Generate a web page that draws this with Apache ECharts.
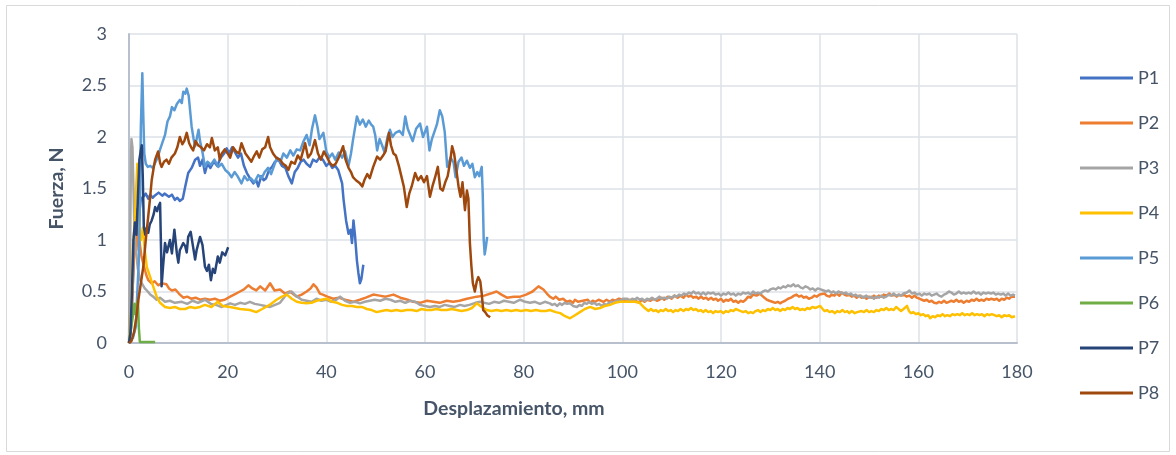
<!DOCTYPE html>
<html>
<head>
<meta charset="utf-8">
<script src="https://cdn.jsdelivr.net/npm/echarts@6/dist/echarts.min.js"></script>
<style>
  html, body { margin: 0; padding: 0; background: #ffffff; }
  #chart { width: 1176px; height: 455px; }
</style>
</head>
<body>
<div id="chart"></div>
<script>
// Force vs. displacement traces for eight specimens, [displacement mm, force N]
const seriesNames = ['P1', 'P2', 'P3', 'P4', 'P5', 'P6', 'P7', 'P8'];
const seriesColors = ['#4472C4', '#ED7D31', '#A5A5A5', '#FFC000', '#5B9BD5', '#70AD47', '#264478', '#9E480E'];

const p1 = [[0,0],[0.4,0.15],[0.8,0.6],[1.2,1.1],[1.6,1.3],[2.0,1.22],[2.4,1.4],[2.9,1.42],[3.4,1.45],[3.9,1.4],[4.3,1.44],[4.8,1.41],[5.2,1.43],[5.6,1.42],[6.0,1.46],[6.3,1.47],[6.8,1.43],[7.2,1.45],[7.6,1.46],[8.1,1.42],[8.7,1.44],[9.3,1.39],[9.8,1.41],[10.3,1.38],[10.9,1.40],[11.4,1.52],[12,1.65],[12.7,1.70],[13.4,1.78],[14,1.80],[14.4,1.72],[14.9,1.78],[15.4,1.65],[15.9,1.74],[16.5,1.70],[17.2,1.76],[17.9,1.72],[18.6,1.80],[19.3,1.84],[19.8,1.89],[20.3,1.84],[20.9,1.90],[21.5,1.85],[22.1,1.80],[22.7,1.84],[23.3,1.72],[23.9,1.65],[24.5,1.60],[25.2,1.55],[25.8,1.58],[26.2,1.52],[26.8,1.62],[27.3,1.58],[27.8,1.60],[28.4,1.68],[29,1.71],[29.6,1.76],[30.3,1.78],[31,1.72],[31.7,1.70],[32.3,1.62],[33,1.55],[33.6,1.66],[34.2,1.70],[34.8,1.76],[35.4,1.78],[36,1.74],[36.7,1.71],[37.3,1.78],[38,1.76],[38.6,1.80],[39.3,1.78],[40,1.72],[40.6,1.75],[41.2,1.70],[41.8,1.72],[42.4,1.68],[43.2,1.55],[43.5,1.39],[44,1.19],[44.5,1.06],[44.9,1.10],[45.2,0.97],[45.5,1.19],[45.8,1.05],[46.2,0.80],[46.5,0.68],[46.8,0.58],[47.1,0.62],[47.5,0.76]];

const p2 = [[0,0],[0.3,0.1],[0.6,0.35],[0.9,0.75],[1.2,1.05],[1.5,0.9],[1.8,1.1],[2.1,1.0],[2.5,0.85],[3.0,0.75],[3.5,0.66],[3.9,0.61],[4.6,0.58],[5.2,0.60],[5.9,0.56],[6.6,0.58],[7.6,0.57],[8.1,0.53],[8.7,0.51],[9.4,0.52],[10.1,0.48],[11,0.44],[11.8,0.45],[12.6,0.43],[13.5,0.44],[14.4,0.42],[15.4,0.43],[16.4,0.42],[17.4,0.43],[18.4,0.41],[19.4,0.42],[20.5,0.45],[21.3,0.47],[22.5,0.50],[23.3,0.52],[24.2,0.56],[25,0.53],[25.8,0.51],[26.6,0.55],[27.6,0.51],[28.6,0.58],[29.5,0.51],[30.6,0.52],[31.6,0.48],[32.6,0.50],[34,0.45],[35,0.47],[36,0.50],[36.8,0.53],[37.4,0.57],[38,0.54],[38.7,0.48],[39.3,0.47],[40.2,0.45],[41.4,0.43],[42.5,0.44],[43.8,0.42],[45.5,0.40],[46.8,0.42],[48,0.44],[49.5,0.47],[50.8,0.46],[52,0.45],[53.6,0.47],[55,0.44],[56.5,0.42],[57.6,0.40],[59,0.39],[60.4,0.41],[61.7,0.40],[63,0.39],[64.4,0.41],[65.7,0.40],[67,0.41],[68.5,0.43],[70.5,0.45],[72,0.46],[73.3,0.48],[74.5,0.50],[75.5,0.47],[76.6,0.44],[78,0.45],[79.3,0.45],[80.5,0.47],[81.8,0.50],[83,0.55],[84,0.52],[84.7,0.48],[85.3,0.45],[86,0.43],[86.5,0.45],[87.2,0.42],[88,0.43],[88.7,0.40],[89.4,0.41],[90,0.39],[90.4,0.42],[91,0.40],[91.4,0.385],[92,0.41],[92.4,0.40],[93,0.42],[93.5,0.39],[94,0.41],[94.5,0.40],[95.2,0.42],[96.2,0.40],[96.8,0.42],[97.5,0.40],[98,0.42],[98.5,0.41],[99.3,0.43],[100.2,0.42],[100.8,0.40],[101.5,0.42],[102.1,0.40],[102.7,0.41],[103.4,0.39],[104,0.42],[104.5,0.40],[105,0.42],[105.7,0.41],[106.3,0.43],[107,0.41],[107.5,0.42],[108,0.44],[108.5,0.42],[109.2,0.45],[110,0.43],[110.6,0.46],[111.2,0.44],[111.8,0.46],[112.4,0.44],[112.9,0.47],[113.4,0.45],[113.9,0.46],[114.4,0.44],[115,0.45],[115.4,0.43],[116,0.45],[116.4,0.43],[117,0.44],[117.4,0.42],[118,0.44],[118.4,0.42],[119,0.43],[119.4,0.41],[120,0.43],[120.5,0.40],[121,0.42],[121.5,0.41],[122,0.43],[122.5,0.40],[123,0.41],[123.5,0.39],[124,0.41],[124.5,0.40],[125,0.42],[125.5,0.45],[126,0.44],[126.5,0.47],[127.2,0.46],[127.9,0.48],[128.3,0.46],[128.8,0.44],[129.3,0.42],[129.8,0.41],[130.4,0.40],[131,0.39],[131.5,0.40],[132,0.385],[132.5,0.40],[133,0.41],[133.6,0.43],[134.2,0.44],[134.8,0.46],[135.3,0.47],[135.8,0.45],[136.3,0.46],[136.8,0.44],[137.3,0.45],[137.8,0.43],[138.4,0.44],[138.9,0.46],[139.4,0.45],[140,0.47],[140.4,0.46],[141,0.48],[141.4,0.46],[142,0.45],[142.4,0.47],[143,0.46],[143.4,0.48],[144,0.46],[144.5,0.49],[145,0.47],[145.5,0.46],[146,0.47],[146.5,0.45],[147,0.46],[147.5,0.44],[148,0.46],[148.5,0.44],[149,0.45],[149.5,0.43],[150,0.45],[150.5,0.44],[151,0.46],[151.5,0.44],[152,0.46],[152.5,0.45],[153,0.47],[153.6,0.46],[154.1,0.48],[154.6,0.46],[155.1,0.47],[155.6,0.45],[156.1,0.47],[156.6,0.46],[157.1,0.47],[157.6,0.45],[158.2,0.46],[158.7,0.44],[159.2,0.46],[159.7,0.44],[160.2,0.43],[160.7,0.42],[161.2,0.41],[161.7,0.42],[162.2,0.40],[162.7,0.41],[163.2,0.39],[163.7,0.385],[164.2,0.40],[164.7,0.39],[165.2,0.41],[165.7,0.39],[166.2,0.40],[166.7,0.41],[167.2,0.40],[167.7,0.42],[168.2,0.40],[168.7,0.41],[169.2,0.39],[169.8,0.41],[170.3,0.40],[170.8,0.42],[171.3,0.41],[171.8,0.43],[172.3,0.41],[172.8,0.42],[173.3,0.41],[173.8,0.43],[174.3,0.42],[174.8,0.43],[175.4,0.42],[175.9,0.43],[176.4,0.41],[176.9,0.43],[177.4,0.42],[177.9,0.44],[178.4,0.43],[178.9,0.45],[179.6,0.45]];

const p3 = [[0,0],[0.2,0.8],[0.4,1.8],[0.5,1.98],[0.7,1.9],[0.9,1.5],[1.1,1.1],[1.4,0.9],[1.8,0.72],[2.2,0.62],[2.6,0.58],[3.2,0.53],[3.8,0.50],[4.3,0.47],[4.9,0.45],[5.6,0.42],[6.3,0.44],[7.3,0.40],[8.3,0.41],[9.3,0.39],[10.7,0.40],[11.8,0.38],[12.9,0.41],[14,0.39],[15.4,0.42],[16.6,0.38],[17.6,0.37],[18.8,0.35],[19.8,0.37],[20.5,0.385],[21.5,0.37],[22.5,0.39],[23.5,0.38],[24.5,0.40],[25.5,0.38],[26.6,0.37],[27.6,0.36],[28.6,0.35],[29.6,0.37],[30.6,0.39],[31.4,0.44],[32,0.48],[33,0.50],[33.8,0.46],[35,0.42],[36,0.41],[37,0.40],[38,0.43],[39,0.41],[40,0.42],[41,0.40],[42,0.42],[42.8,0.45],[43.8,0.41],[44.8,0.39],[45.8,0.40],[46.8,0.385],[47.8,0.40],[48.8,0.41],[49.8,0.42],[50.9,0.41],[52,0.43],[53,0.42],[54,0.40],[55,0.41],[56,0.39],[57,0.41],[58,0.40],[59,0.37],[60,0.36],[61,0.35],[62,0.36],[63,0.35],[64,0.37],[65,0.36],[66,0.35],[67.1,0.37],[68,0.36],[69,0.37],[70.2,0.39],[71.2,0.40],[72,0.39],[73,0.38],[74,0.40],[75,0.39],[76,0.41],[77,0.40],[78,0.39],[79.3,0.42],[80.3,0.40],[81.3,0.39],[82.3,0.40],[83.3,0.38],[84.3,0.40],[85.3,0.385],[85.8,0.37],[86.3,0.38],[86.8,0.36],[87.3,0.385],[87.8,0.37],[88.3,0.39],[88.8,0.38],[89.4,0.385],[90,0.36],[90.4,0.37],[90.8,0.35],[91.3,0.37],[91.8,0.36],[92.3,0.39],[92.8,0.38],[93.3,0.40],[93.8,0.38],[94.3,0.39],[94.8,0.37],[95.3,0.38],[95.8,0.36],[96.3,0.38],[96.8,0.37],[97.3,0.39],[97.8,0.40],[98.3,0.39],[98.8,0.41],[99.2,0.42],[99.6,0.41],[100.1,0.43],[100.5,0.42],[101,0.43],[101.5,0.41],[102,0.43],[102.5,0.42],[103,0.44],[103.5,0.42],[104,0.43],[104.5,0.41],[105,0.43],[105.5,0.42],[106,0.44],[106.5,0.42],[107,0.43],[107.5,0.45],[108,0.43],[108.5,0.44],[109,0.43],[109.5,0.45],[110,0.44],[110.5,0.46],[111,0.45],[111.5,0.47],[112,0.46],[112.5,0.48],[113,0.47],[113.5,0.49],[114,0.48],[114.4,0.50],[114.9,0.48],[115.4,0.49],[115.9,0.47],[116.4,0.49],[116.9,0.47],[117.4,0.49],[117.9,0.48],[118.4,0.49],[118.9,0.47],[119.5,0.48],[120,0.46],[120.5,0.48],[121,0.47],[121.5,0.49],[122,0.47],[122.5,0.48],[123,0.46],[123.5,0.48],[124,0.47],[124.5,0.49],[125,0.48],[125.5,0.49],[126,0.47],[126.5,0.50],[127,0.48],[127.5,0.49],[128,0.48],[128.5,0.50],[129,0.51],[129.5,0.50],[130,0.52],[130.6,0.53],[131.1,0.52],[131.6,0.54],[132.1,0.53],[132.6,0.55],[133.1,0.54],[133.6,0.56],[134.1,0.55],[134.7,0.57],[135.1,0.55],[135.6,0.56],[136.1,0.54],[136.6,0.53],[137.1,0.55],[137.6,0.54],[138.1,0.52],[138.6,0.53],[139.1,0.51],[139.6,0.53],[140.2,0.52],[140.8,0.51],[141.3,0.50],[141.8,0.51],[142.3,0.49],[142.8,0.50],[143.3,0.48],[143.8,0.50],[144.3,0.49],[144.8,0.48],[145.3,0.49],[145.8,0.47],[146.3,0.48],[146.8,0.46],[147.3,0.47],[147.8,0.45],[148.3,0.46],[148.9,0.44],[149.4,0.46],[150,0.44],[150.5,0.45],[151,0.43],[151.5,0.45],[152,0.44],[152.5,0.46],[153,0.44],[153.5,0.45],[154,0.47],[154.5,0.46],[155,0.48],[155.5,0.46],[156,0.47],[156.5,0.46],[157,0.48],[157.7,0.49],[158.2,0.51],[158.7,0.48],[159.2,0.49],[159.7,0.47],[160.2,0.48],[160.7,0.46],[161.2,0.48],[161.7,0.47],[162.2,0.48],[162.7,0.46],[163.2,0.47],[163.7,0.48],[164.2,0.46],[164.7,0.45],[165.2,0.47],[165.7,0.48],[166.2,0.50],[166.7,0.49],[167.2,0.47],[167.7,0.48],[168.2,0.50],[168.7,0.48],[169.2,0.49],[169.7,0.48],[170.2,0.49],[170.7,0.48],[171.2,0.50],[171.7,0.48],[172.2,0.49],[172.7,0.47],[173.2,0.49],[173.7,0.48],[174.2,0.49],[174.7,0.48],[175.2,0.49],[175.7,0.47],[176.2,0.48],[176.7,0.47],[177.2,0.48],[177.7,0.46],[178.2,0.48],[178.7,0.46],[179.2,0.47],[179.6,0.46]];

const p4 = [[0,0],[0.3,0.15],[0.6,0.5],[0.8,0.95],[1.0,1.05],[1.2,1.2],[1.4,1.45],[1.7,1.74],[1.9,1.5],[2.1,1.1],[2.4,1.0],[2.8,1.12],[3.2,0.90],[3.6,0.74],[4.3,0.64],[4.9,0.55],[5.6,0.45],[6.3,0.39],[7.3,0.35],[8.3,0.34],[9.3,0.35],[10.3,0.33],[11.4,0.33],[12.4,0.35],[13.4,0.34],[14.4,0.35],[15.4,0.37],[16.7,0.35],[18,0.40],[19,0.36],[20.5,0.35],[21.5,0.34],[22.5,0.33],[24.5,0.32],[25.8,0.30],[27,0.33],[28.5,0.37],[29.9,0.42],[31,0.45],[32,0.47],[33,0.43],[34,0.40],[35,0.39],[36,0.385],[37,0.39],[38,0.41],[39,0.42],[40.1,0.43],[41.2,0.40],[42.2,0.39],[43.2,0.37],[44.2,0.36],[45.2,0.36],[46.2,0.35],[47.2,0.35],[48.2,0.33],[49.2,0.32],[50.2,0.30],[51.2,0.31],[52.2,0.32],[53.2,0.31],[54.2,0.32],[55.2,0.31],[56.3,0.32],[57.3,0.32],[58.3,0.31],[59.3,0.33],[60.3,0.32],[61.3,0.32],[62.3,0.33],[63.3,0.32],[64.4,0.32],[65.4,0.33],[66.4,0.32],[67.4,0.31],[68.5,0.32],[69.5,0.34],[70.5,0.385],[71.5,0.35],[72.5,0.32],[73.5,0.31],[74.5,0.32],[75.5,0.31],[76.5,0.32],[77.5,0.31],[78.5,0.32],[79.5,0.31],[80.5,0.32],[81.5,0.31],[82.5,0.32],[83.5,0.31],[84.5,0.31],[85.3,0.32],[86.5,0.30],[87.4,0.29],[88.4,0.26],[89.4,0.24],[90.4,0.27],[91.4,0.30],[92.4,0.33],[93.5,0.35],[94.5,0.33],[95.5,0.34],[96.5,0.36],[97.5,0.37],[98.5,0.39],[99.5,0.40],[100.5,0.40],[101.5,0.40],[102.5,0.40],[103.5,0.39],[104.3,0.35],[104.8,0.33],[105.3,0.31],[105.8,0.33],[106.3,0.31],[106.8,0.32],[107.3,0.30],[107.8,0.32],[108.3,0.31],[108.8,0.33],[109.3,0.31],[109.8,0.32],[110.3,0.30],[110.8,0.32],[111.3,0.31],[111.8,0.33],[112.4,0.31],[112.9,0.33],[113.4,0.32],[113.9,0.34],[114.4,0.32],[114.9,0.33],[115.4,0.31],[115.9,0.32],[116.4,0.30],[116.9,0.32],[117.4,0.30],[117.9,0.31],[118.4,0.29],[118.9,0.31],[119.4,0.30],[119.9,0.31],[120.5,0.29],[121,0.31],[121.5,0.30],[122,0.32],[122.5,0.31],[123,0.33],[123.5,0.32],[124,0.31],[124.5,0.30],[125,0.31],[125.5,0.29],[126,0.30],[126.5,0.29],[127,0.31],[127.5,0.32],[128,0.30],[128.5,0.32],[129,0.31],[129.5,0.33],[130,0.32],[130.5,0.34],[131,0.32],[131.5,0.33],[132,0.31],[132.5,0.33],[133,0.32],[133.5,0.34],[134,0.33],[134.5,0.35],[135,0.33],[135.5,0.34],[136,0.32],[136.5,0.33],[137,0.32],[137.5,0.34],[138,0.33],[138.5,0.35],[139.2,0.34],[140.1,0.36],[140.6,0.33],[141,0.31],[141.5,0.32],[142,0.30],[142.5,0.31],[143.1,0.29],[143.6,0.31],[144.1,0.30],[144.6,0.32],[145.1,0.30],[145.6,0.31],[146,0.29],[146.5,0.31],[147.1,0.29],[147.6,0.30],[148,0.29],[148.5,0.31],[149,0.30],[149.5,0.32],[150,0.30],[150.5,0.31],[151,0.30],[151.5,0.32],[152,0.31],[152.5,0.33],[153,0.32],[153.5,0.34],[154,0.32],[154.5,0.33],[155,0.32],[155.5,0.35],[156,0.33],[156.5,0.31],[157,0.33],[157.7,0.36],[158.1,0.31],[158.5,0.29],[159,0.30],[159.5,0.28],[160,0.29],[160.5,0.27],[161,0.28],[161.5,0.26],[162,0.27],[162.4,0.24],[162.9,0.26],[163.4,0.25],[163.9,0.27],[164.4,0.26],[164.9,0.28],[165.4,0.26],[165.9,0.27],[166.4,0.26],[166.9,0.28],[167.4,0.27],[167.9,0.28],[168.4,0.27],[168.9,0.29],[169.4,0.27],[169.9,0.28],[170.4,0.27],[170.9,0.29],[171.4,0.27],[171.9,0.28],[172.4,0.27],[172.9,0.28],[173.4,0.26],[173.9,0.28],[174.4,0.27],[174.9,0.28],[175.4,0.27],[175.9,0.26],[176.4,0.27],[176.9,0.25],[177.4,0.27],[177.9,0.26],[178.4,0.27],[178.9,0.25],[179.6,0.26]];

const p5 = [[0,0],[0.8,0.05],[1.4,0.16],[1.6,0.4],[2.0,0.81],[2.2,1.3],[2.4,2.1],[2.7,2.62],[2.9,2.2],[3.1,1.84],[3.4,1.74],[3.8,1.71],[4.3,1.72],[4.8,1.70],[5.3,1.75],[5.8,1.80],[6.3,1.88],[6.8,1.95],[7.3,2.02],[7.8,2.15],[8.3,2.20],[8.7,2.29],[9.2,2.26],[9.7,2.32],[10.3,2.36],[10.7,2.33],[11,2.44],[11.4,2.42],[11.7,2.47],[12.1,2.40],[12.4,2.25],[12.7,2.10],[13.1,1.98],[13.4,1.91],[13.8,2.0],[14.1,2.07],[14.4,1.96],[14.9,1.85],[15.4,1.71],[15.9,1.76],[16.6,1.73],[17.3,1.78],[18.1,1.71],[18.8,1.74],[19.5,1.68],[20.2,1.65],[20.8,1.61],[21.4,1.66],[22.0,1.62],[22.8,1.55],[23.4,1.62],[24.0,1.58],[24.7,1.60],[25.4,1.56],[26.2,1.63],[26.9,1.60],[27.5,1.66],[28.2,1.70],[28.8,1.64],[29.4,1.72],[30,1.80],[30.7,1.76],[31.3,1.84],[32,1.80],[32.7,1.87],[33.3,1.82],[34,1.88],[34.7,1.87],[35.3,1.95],[36,2.02],[36.6,1.92],[37.1,2.08],[37.7,2.21],[38.2,2.10],[38.6,1.98],[39.4,2.04],[40,1.86],[40.6,1.80],[41.2,1.84],[41.8,1.78],[42.5,1.85],[43.2,1.80],[43.8,1.86],[44.5,1.72],[45,1.84],[45.4,1.97],[46.2,2.2],[46.8,2.12],[47.4,2.17],[48,2.10],[48.6,2.16],[49.1,2.12],[49.5,2.10],[49.9,2.02],[50.3,1.87],[50.8,1.98],[51.3,1.92],[51.8,1.85],[52.4,2.00],[52.9,2.07],[53.4,2.00],[54,2.04],[54.8,2.06],[55.5,2.02],[56.0,2.20],[56.5,2.08],[57,2.02],[57.5,1.96],[58.2,2.08],[59,2.13],[59.6,2.0],[60.4,2.10],[60.9,1.87],[61.4,1.98],[61.9,2.05],[62.4,2.12],[63,2.26],[63.5,2.20],[64,2.05],[64.5,1.71],[65.2,1.80],[65.8,1.75],[66.2,1.61],[66.8,1.76],[67.4,1.80],[67.9,1.72],[68.5,1.77],[69.1,1.70],[69.6,1.74],[70.1,1.61],[70.6,1.66],[71,1.62],[71.5,1.71],[71.7,1.45],[71.9,1.0],[72.1,0.86],[72.3,0.92],[72.6,1.03]];

const p6 = [[0,0],[0.3,0.1],[0.6,0.2],[0.9,0.3],[1.1,0.38],[1.3,0.28],[1.5,0.36],[1.8,0.42],[2.0,0.15],[2.2,0.01],[3,0.01],[4,0.01],[5.3,0.01]];

const p7 = [[0,0],[0.3,0.1],[0.6,0.5],[0.9,1.0],[1.2,1.17],[1.5,1.05],[1.8,1.4],[2.1,1.78],[2.4,1.87],[2.6,1.92],[2.8,1.6],[3.0,1.13],[3.3,1.05],[3.6,1.12],[3.9,1.07],[4.2,1.15],[4.6,1.19],[5.0,1.25],[5.3,1.32],[5.7,1.28],[6.0,1.33],[6.3,1.36],[6.5,0.90],[6.6,0.55],[6.9,0.74],[7.3,0.97],[7.7,0.88],[8.3,1.00],[8.7,0.87],[9.2,1.10],[9.7,0.87],[10.0,0.78],[10.3,0.90],[10.6,0.93],[11.0,0.97],[11.4,0.94],[11.7,0.88],[12.0,1.03],[12.5,1.08],[12.9,0.96],[13.4,0.81],[13.7,0.90],[14.4,1.03],[14.9,0.95],[15.4,0.74],[15.8,0.70],[16.2,0.76],[16.6,0.61],[17.0,0.72],[17.4,0.68],[18.0,0.84],[18.4,0.78],[18.9,0.88],[19.5,0.85],[20.1,0.93]];

const p8 = [[0,0],[0.5,0.02],[1.0,0.1],[1.5,0.25],[1.9,0.42],[2.4,0.58],[2.9,0.74],[3.4,1.0],[3.9,1.23],[4.3,1.42],[4.6,1.58],[5.0,1.70],[5.3,1.78],[5.9,1.86],[6.3,1.75],[6.6,1.71],[7.1,1.76],[7.6,1.78],[8.1,1.74],[8.6,1.80],[9.3,1.84],[9.8,1.90],[10.3,2.00],[10.8,1.93],[11.2,1.96],[11.7,2.04],[12.2,1.94],[12.6,1.90],[13.0,1.87],[13.5,1.96],[14.0,1.92],[14.6,1.90],[15.2,1.87],[15.8,1.93],[16.4,1.90],[16.8,1.99],[17.4,1.87],[18.0,1.90],[18.4,1.78],[18.8,1.84],[19.4,1.88],[20.0,1.84],[20.5,1.80],[21.1,1.90],[21.7,1.86],[22.3,1.84],[22.8,1.94],[23.1,1.94],[23.6,1.84],[24.2,1.80],[24.8,1.76],[25.4,1.82],[25.9,1.86],[26.4,1.80],[27.0,1.88],[27.6,1.90],[28.2,2.00],[28.6,1.90],[29.2,1.84],[29.8,1.80],[30.6,1.78],[31.2,1.74],[31.8,1.72],[32.3,1.68],[32.9,1.76],[33.6,1.74],[34.2,1.82],[34.8,1.78],[35.7,1.94],[36.3,1.80],[36.9,1.84],[37.7,1.97],[38.3,1.84],[38.9,1.78],[39.5,1.86],[40.2,1.80],[40.7,1.75],[41.3,1.72],[41.9,1.74],[42.5,1.80],[43.0,1.86],[43.4,1.91],[43.9,1.78],[44.5,1.70],[45.0,1.66],[45.4,1.61],[46.0,1.58],[46.8,1.55],[47.3,1.52],[47.7,1.58],[48.3,1.64],[48.8,1.60],[49.5,1.71],[50.3,1.81],[50.9,1.78],[51.5,1.82],[52.0,1.86],[52.7,2.04],[53.1,1.92],[53.6,1.84],[54.1,1.82],[54.7,1.72],[55.2,1.62],[55.7,1.52],[56.3,1.32],[56.8,1.45],[57.3,1.52],[58.0,1.65],[58.6,1.58],[59.2,1.62],[59.8,1.56],[60.4,1.62],[61.0,1.42],[61.5,1.52],[62.0,1.60],[62.6,1.71],[63.1,1.50],[63.6,1.48],[64.1,1.56],[64.6,1.62],[65.1,1.76],[65.5,1.91],[65.9,1.84],[66.3,1.70],[66.8,1.52],[67.2,1.42],[67.6,1.56],[68.1,1.29],[68.5,1.48],[68.8,1.40],[69.1,0.97],[69.4,0.75],[69.7,0.58],[70.1,0.50],[70.5,0.60],[70.8,0.64],[71.2,0.60],[71.5,0.48],[71.8,0.32],[72.2,0.30],[72.6,0.27],[73.2,0.25]];

const seriesData = [p1, p2, p3, p4, p5, p6, p7, p8];

// Axis ticks: displacement 0–180 mm by 20, force 0–3 N by 0.5
const xTicks = { min: 0, max: 180, interval: 20 };
const yTicks = { min: 0, max: 3, interval: 0.5 };

const textColor = '#465467';
const fontFamily = 'Lato, "Open Sans", sans-serif';

const chart = echarts.init(document.getElementById('chart'), null, { renderer: 'canvas' });

chart.setOption({
  animation: false,
  backgroundColor: '#ffffff',
  graphic: [{
    type: 'rect',
    shape: { x: 6.5, y: 5.5, width: 1163, height: 446 },
    style: { fill: 'none', stroke: '#D9D9D9', lineWidth: 1 },
    silent: true,
    z: -1
  }],
  grid: { left: 129, right: 159, top: 34, bottom: 112, containLabel: false },
  legend: {
    orient: 'vertical',
    left: 1075,
    top: 62,
    icon: 'rect',
    itemWidth: 53,
    itemHeight: 3,
    itemGap: 23,
    textStyle: { color: textColor, fontSize: 18, fontFamily: fontFamily, lineHeight: 22 },
    data: seriesNames
  },
  xAxis: {
    type: 'value',
    min: xTicks.min,
    max: xTicks.max,
    interval: xTicks.interval,
    name: 'Desplazamiento, mm',
    nameLocation: 'middle',
    nameGap: 56,
    nameTextStyle: { color: textColor, fontSize: 19.5, fontWeight: 'bold', fontFamily: fontFamily, padding: [0, 118, 0, 0] },
    axisLine: { show: true, onZero: false, lineStyle: { color: '#B7C0CC', width: 2 } },
    axisTick: { show: false },
    axisLabel: { color: textColor, fontSize: 18, fontFamily: fontFamily, margin: 20 },
    splitLine: { show: true, lineStyle: { color: '#DDE2E9', width: 1.5 } }
  },
  yAxis: {
    type: 'value',
    min: yTicks.min,
    max: yTicks.max,
    interval: yTicks.interval,
    name: 'Fuerza, N',
    nameLocation: 'middle',
    nameRotate: 90,
    nameGap: 62,
    nameTextStyle: { color: textColor, fontSize: 19.5, fontWeight: 'bold', fontFamily: fontFamily },
    axisLine: { show: true, lineStyle: { color: '#B7C0CC', width: 2 } },
    axisTick: { show: false },
    axisLabel: { color: textColor, fontSize: 18, fontFamily: fontFamily, margin: 22 },
    splitLine: { show: true, lineStyle: { color: '#DDE2E9', width: 1.5 } }
  },
  series: seriesNames.map((name, i) => ({
    name: name,
    type: 'line',
    data: seriesData[i],
    symbol: 'none',
    showSymbol: false,
    smooth: false,
    clip: true,
    color: seriesColors[i],
    lineStyle: { color: seriesColors[i], width: 2.5, join: 'round' },
    itemStyle: { color: seriesColors[i] }
  }))
});
</script>
</body>
</html>
